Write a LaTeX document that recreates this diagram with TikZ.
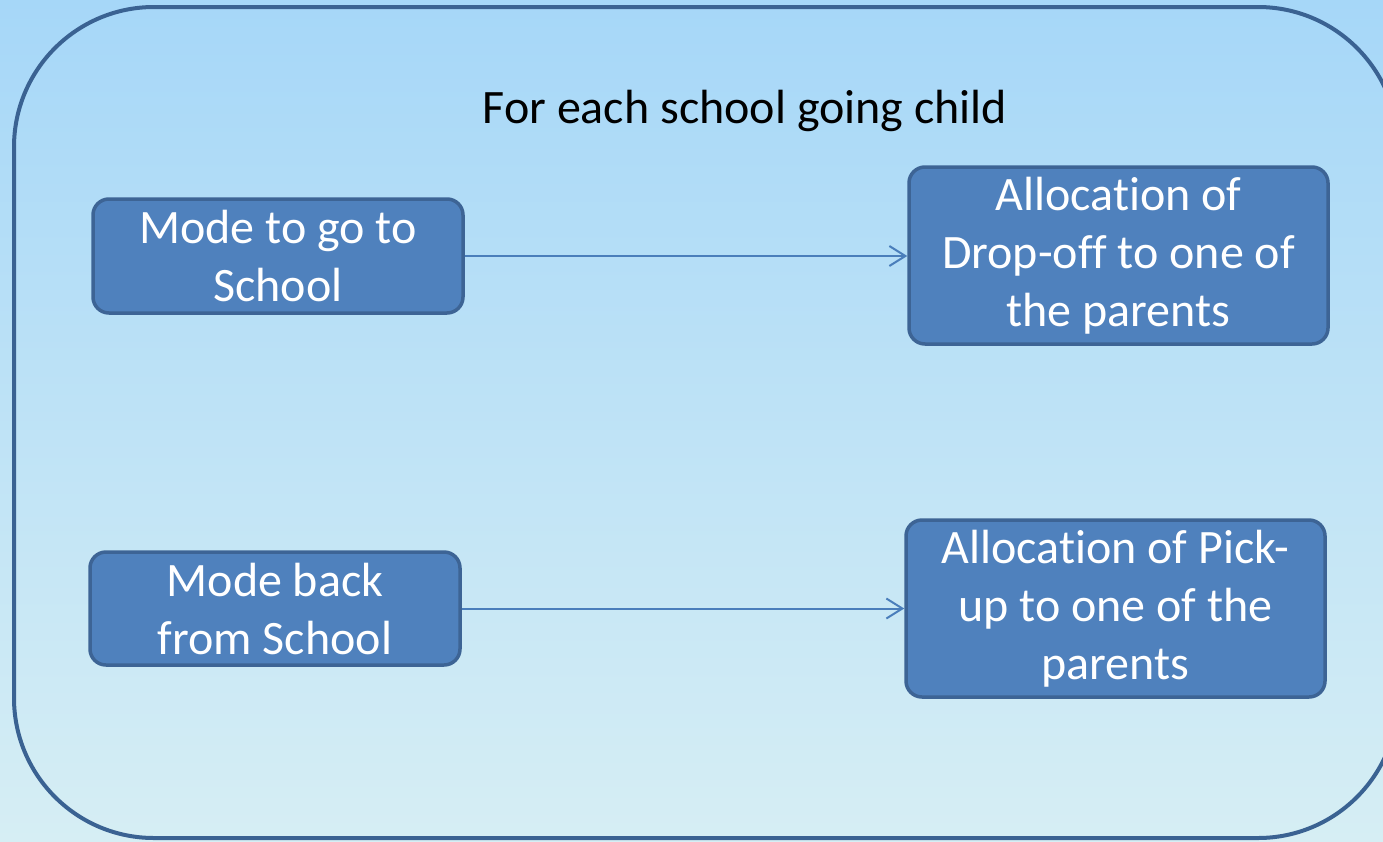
\documentclass[tikz,border=0pt]{standalone}
\usepackage{fontspec}
\setmainfont[Ligatures={NoCommon}]{Carlito}
\usetikzlibrary{arrows.meta}
\definecolor{bgtop}{HTML}{A6D7F8}
\definecolor{bgbot}{HTML}{D6EEF4}
\definecolor{outerline}{HTML}{3A6292}
\definecolor{boxfill}{HTML}{4F81BD}
\definecolor{boxline}{HTML}{3D6495}
\definecolor{arrowcol}{HTML}{4A7EBB}
\tikzset{
  procbox/.style={draw=boxline, fill=boxfill, line width=3.5pt, rounded corners=16pt,
    text=white, align=center, inner sep=0pt,
    font=\fontsize{48}{58}\selectfont},
  flowarrow/.style={draw=arrowcol, line width=2pt, -{Straight Barb[length=16pt,width=20pt,line width=2pt]}},
  titletext/.style={font=\fontsize{48}{56}\selectfont, text=black, inner sep=0pt}
}
\begin{document}
\begin{tikzpicture}[x=1pt,y=-1pt]
\useasboundingbox (0,0) rectangle (1383,841);
\clip (0,0) rectangle (1383,841);
\shade[top color=bgtop, bottom color=bgbot] (0,0) rectangle (1383,841);
\draw[outerline, line width=4pt, rounded corners=140pt] (14,7) rectangle (1398,838);
\node[titletext] (title) at (745,111) {For each school going child};
\node[procbox, minimum width=370pt, minimum height=114pt] (m1) at (278,256) {Mode to go to\\School};
\node[procbox, minimum width=419pt, minimum height=177pt] (a1) at (1118.5,255.5) {Allocation of\\Drop-off to one of\\the parents};
\node[procbox, minimum width=370pt, minimum height=113pt] (m2) at (275,608.5) {Mode back\\from School};
\node[procbox, minimum width=419pt, minimum height=177pt] (a2) at (1115.5,608.5) {Allocation of Pick-\\up to one of the\\parents};
\draw[flowarrow] (m1.east) -- (a1.west |- m1.east);
\draw[flowarrow] (m2.east) -- (a2.west |- m2.east);
\end{tikzpicture}
\end{document}
